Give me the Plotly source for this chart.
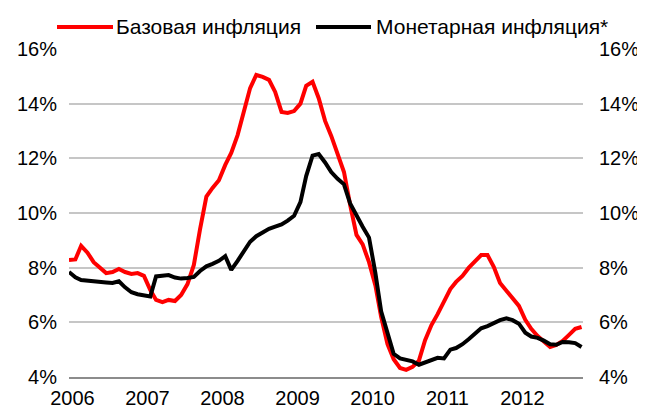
import pandas as pd
import plotly.graph_objects as go

# Monthly data, Jan 2006 - Nov 2012 (%, y/y)
base_inflation = [
    8.28, 8.30, 8.80, 8.55, 8.20, 7.99, 7.80, 7.84, 7.95, 7.84, 7.77, 7.80,
    7.70, 7.18, 6.82, 6.74, 6.82, 6.78, 7.00, 7.40, 8.10, 9.40, 10.60, 10.92,
    11.20, 11.76, 12.20, 12.85, 13.77, 14.57, 15.05, 14.98, 14.87, 14.43, 13.70, 13.66,
    13.73, 14.00, 14.65, 14.80, 14.20, 13.37, 12.82, 12.20, 11.50, 10.30, 9.20, 8.85,
    8.20, 7.35, 6.20, 5.20, 4.65, 4.33, 4.26, 4.37, 4.60, 5.35, 5.90, 6.30,
    6.74, 7.22, 7.48, 7.70, 7.99, 8.24, 8.46, 8.46, 8.02, 7.44, 7.15, 6.89,
    6.60, 6.09, 5.76, 5.50, 5.28, 5.10, 5.17, 5.32, 5.54, 5.76, 5.83,
]
monetary_inflation = [
    7.84, 7.65, 7.55, 7.52, 7.50, 7.48, 7.46, 7.44, 7.50, 7.28, 7.10, 7.03,
    6.98, 6.95, 7.68, 7.72, 7.73, 7.64, 7.60, 7.62, 7.66, 7.88, 8.05, 8.14,
    8.25, 8.42, 7.92, 8.25, 8.60, 8.95, 9.15, 9.30, 9.42, 9.50, 9.58, 9.72,
    9.90, 10.40, 11.35, 12.10, 12.16, 11.85, 11.50, 11.25, 11.05, 10.35, 9.90, 9.50,
    9.10, 7.80, 6.40, 5.55, 4.85, 4.68, 4.62, 4.57, 4.45, 4.52, 4.60, 4.70,
    4.68, 5.00, 5.06, 5.20, 5.38, 5.58, 5.78, 5.86, 5.98, 6.08, 6.15, 6.08,
    5.95, 5.62, 5.48, 5.43, 5.33, 5.20, 5.18, 5.28, 5.27, 5.24, 5.10,
]
series_names = ["Базовая инфляция", "Монетарная инфляция*"]
series_colors = ["#ff0000", "#000000"]
year_labels = ["2006", "2007", "2008", "2009", "2010", "2011", "2012"]
y_ticks = [4, 6, 8, 10, 12, 14, 16]
y_tick_labels = ["4%", "6%", "8%", "10%", "12%", "14%", "16%"]

months = pd.date_range("2006-01-01", periods=len(base_inflation), freq="MS")
year_ticks = [pd.Timestamp(f"{y}-01-18") for y in year_labels]

FONT = "Liberation Sans, Arial, sans-serif"
TICK_SIZE = 20

# page has an 8px body margin, so the figure is 8px smaller than the window
W, H = 637, 402
ML, MR, MT, MB = 61, 62, 41, 33
PW, PH = W - ML - MR, H - MT - MB


def px_x(x):
    return (x - ML) / PW


def px_y(y):
    return (H - MB - y) / PH


fig = go.Figure()
for name, vals, col in zip(series_names, [base_inflation, monetary_inflation], series_colors):
    fig.add_trace(go.Scatter(
        x=months, y=vals, name=name, mode="lines",
        line=dict(color=col, width=4), yaxis="y", showlegend=False,
    ))
# invisible trace to anchor the mirrored right axis
fig.add_trace(go.Scatter(
    x=months, y=monetary_inflation, mode="lines", showlegend=False,
    line=dict(color="rgba(0,0,0,0)", width=0), hoverinfo="skip", yaxis="y2",
))

# legend drawn manually (longer line samples than Plotly's native legend)
legend_y = 19
legend_items = [(49, 105, 106), (308, 363, 366)]
shapes, annotations = [], []
for (x0, x1, xt), name, col in zip(legend_items, series_names, series_colors):
    shapes.append(dict(
        type="line", xref="paper", yref="paper",
        x0=px_x(x0), x1=px_x(x1), y0=px_y(legend_y), y1=px_y(legend_y),
        line=dict(color=col, width=4),
    ))
    annotations.append(dict(
        xref="paper", yref="paper", x=px_x(xt), y=px_y(legend_y),
        xanchor="left", yanchor="middle", text=name, showarrow=False,
        font=dict(family=FONT, size=21, color="#000000"),
    ))

fig.update_layout(
    width=W, height=H,
    margin=dict(l=ML, r=MR, t=MT, b=MB, autoexpand=False),
    paper_bgcolor="white", plot_bgcolor="white",
    font=dict(family=FONT, size=TICK_SIZE, color="#000000"),
    showlegend=False,
    shapes=shapes, annotations=annotations,
    xaxis=dict(
        range=[pd.Timestamp("2006-01-01"), pd.Timestamp("2012-11-08")],
        tickvals=year_ticks, ticktext=year_labels,
        showgrid=False, zeroline=False,
        showline=True, linecolor="#8c8c8c", linewidth=2,
        ticks="", ticklabelstandoff=2,
        tickfont=dict(family=FONT, size=TICK_SIZE, color="#000000"),
    ),
    yaxis=dict(
        range=[4, 16], tickvals=y_ticks, ticktext=y_tick_labels,
        showgrid=True, gridcolor="#c6c6c6", gridwidth=1.5,
        zeroline=False, showline=False, ticks="", ticklabelstandoff=11,
        tickfont=dict(family=FONT, size=TICK_SIZE, color="#000000"),
    ),
    yaxis2=dict(
        range=[4, 16], tickvals=y_ticks, ticktext=y_tick_labels,
        overlaying="y", side="right", showgrid=False, zeroline=False,
        showline=False, ticks="", ticklabelstandoff=15,
        tickfont=dict(family=FONT, size=TICK_SIZE, color="#000000"),
    ),
)

fig.write_html("out.html")
